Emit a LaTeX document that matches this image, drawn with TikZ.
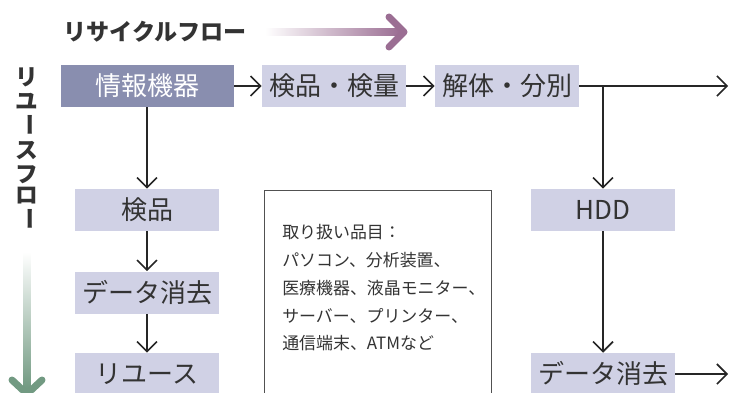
\documentclass[tikz,border=0pt]{standalone}
\usepackage{fontspec}
\setmainfont{Noto Sans CJK JP}
\usetikzlibrary{arrows.meta}
\definecolor{darkbox}{HTML}{898EAF}
\definecolor{lightbox}{HTML}{D0D1E5}
\definecolor{txt}{HTML}{333333}
\definecolor{linec}{HTML}{262626}
\definecolor{purpl}{HTML}{9B6E93}
\definecolor{greenc}{HTML}{729A82}
\begin{document}
\begin{tikzpicture}[x=0.75pt,y=-0.75pt,
  box/.style={fill=lightbox, minimum width=108pt, minimum height=31.5pt, inner sep=0pt,
    text=txt, font=\fontsize{19.5pt}{21pt}\selectfont},
  conn/.style={draw=linec, line width=1.2pt,
    -{Straight Barb[length=7.5pt,width=15pt,line width=1.2pt]}},
  vchar/.style={text=txt, font=\fontsize{17pt}{18pt}\selectfont\bfseries, inner sep=0pt},
  big/.style={line width=5.25pt, line cap=round, line join=round}]
\useasboundingbox (0,0) rectangle (730,392);

% title and recycle arrow
\node[anchor=west, text=txt, inner sep=0pt, font=\fontsize{17.3pt}{18pt}\selectfont\bfseries] (title) at (63,32) {リサイクルフロー};
\shade[left color=white, right color=purpl] (265,28.5) rectangle (400,35.5);
\draw[purpl, big] (389,17) -- (404,32) -- (389,47);

% vertical title and reuse arrow
\node[vchar] (v1) at (27,77) {リ};
\node[vchar] (v2) at (27,101) {ユ};
\node[vchar, rotate=-90] (v3) at (27,125) {ー};
\node[vchar] (v4) at (27,151) {ス};
\node[vchar] (v5) at (27,175) {フ};
\node[vchar] (v6) at (27,196) {ロ};
\node[vchar, rotate=-90] (v7) at (27,219) {ー};
\shade[top color=white, bottom color=greenc] (23.5,252) rectangle (30.5,388);
\draw[greenc, big] (12,380) -- (27,394) -- (42,380);

% boxes
\node[box, fill=darkbox, text=white, minimum width=129.75pt] (info) at (147.5,86) {情報機器};
\node[box] (insp) at (334,86) {検品・検量};
\node[box] (dis) at (507,86) {解体・分別};
\node[box] (hdd) at (603,210) {HDD};
\node[box] (del2) at (603,374) {データ消去};
\node[box] (insp2) at (147,210) {検品};
\node[box] (del1) at (147,292.5) {データ消去};
\node[box] (reuse) at (147,374) {リユース};

% note
\node[draw=linec!80, line width=0.75pt, anchor=north west, minimum width=170.25pt, minimum height=157.5pt, inner sep=0pt] (note) at (264,190) {};
\node[anchor=west, align=left, inner sep=0pt, text=txt, font=\fontsize{12.7pt}{20.8pt}\selectfont] (notetext) at (282,288)
  {取り扱い品目：\\パソコン、分析装置、\\医療機器、液晶モニター、\\サーバー、プリンター、\\通信端末、ATMなど};

% connectors
\coordinate (e1) at (728,86);
\coordinate (e2) at (728,374);
\coordinate (br) at (603,86);
\draw[conn] (info) -- (insp);
\draw[conn] (insp) -- (dis);
\draw[conn] (dis) -- (e1);
\draw[conn] (br) -- (hdd);
\draw[conn] (hdd) -- (del2);
\draw[conn] (del2) -- (e2);
\draw[conn] (info.south -| insp2.north) -- (insp2);
\draw[conn] (insp2) -- (del1);
\draw[conn] (del1) -- (reuse);
\end{tikzpicture}
\end{document}
